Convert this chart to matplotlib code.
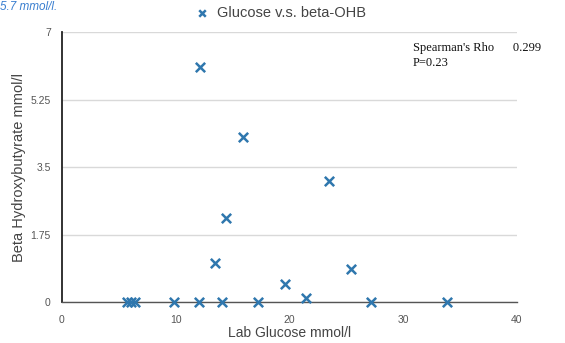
import matplotlib
matplotlib.use("Agg")
import matplotlib.pyplot as plt

glucose = [5.74, 6.07, 6.42, 9.85, 12.04, 14.1, 17.26, 27.2, 33.87,
           12.13, 15.88, 23.44, 14.42, 13.45, 25.38, 19.6, 21.45]
bohb = [0, 0, 0, 0, 0, 0, 0, 0, 0,
        6.08, 4.29, 3.14, 2.19, 1.02, 0.86, 0.47, 0.11]
yticks = [0, 1.75, 3.5, 5.25, 7]
ytick_labels = ["0", "1.75", "3.5", "5.25", "7"]
xticks = [0, 10, 20, 30, 40]

plt.rcParams["font.family"] = ["Liberation Sans", "DejaVu Sans"]

fig = plt.figure(figsize=(5.65, 3.43), dpi=100)
ax = fig.add_axes([0.1097, 0.1195, 0.8053, 0.7872])

ax.scatter(glucose, bohb, marker="x", s=45, linewidths=1.8, color="#2F77AE",
           label="Glucose v.s. beta-OHB", zorder=3, clip_on=False)

ax.set_xlim(0, 40)
ax.set_ylim(0, 7)
ax.set_yticks(yticks)
ax.set_yticklabels(ytick_labels)
ax.set_xticks(xticks)
ax.grid(axis="y", color="#d9d9d9", linewidth=1.0)
ax.set_axisbelow(True)
for s in ["top", "right"]:
    ax.spines[s].set_visible(False)
ax.spines["left"].set_color("#222222")
ax.spines["left"].set_linewidth(1.3)
ax.spines["bottom"].set_color("#555555")
ax.spines["bottom"].set_linewidth(1.0)
ax.tick_params(axis="both", length=0, labelsize=7.5, labelcolor="#555555", pad=8)
ax.tick_params(axis="x", pad=9)

ax.set_xlabel("Lab Glucose mmol/l", fontsize=10, color="#444444", labelpad=1)
ax.set_ylabel("Beta Hydroxybutyrate mmol/l", fontsize=10.5, color="#444444", labelpad=3)

leg = fig.legend(loc="center", bbox_to_anchor=(0.49, 0.962), frameon=False,
                 fontsize=10.5, handletextpad=0.0, markerscale=0.7, labelcolor="#444444")

fig.text(0.731, 0.85, "Spearman's Rho      0.299", family="Liberation Serif",
         fontsize=9, color="#111111")
fig.text(0.731, 0.808, "P=0.23", family="Liberation Serif", fontsize=9, color="#111111")

fig.text(0.0, 0.998, "5.7 mmol/l.", fontsize=8.5, color="#3a7fd0", style="italic",
         va="top", ha="left")

fig.savefig("out.png", dpi=100)
